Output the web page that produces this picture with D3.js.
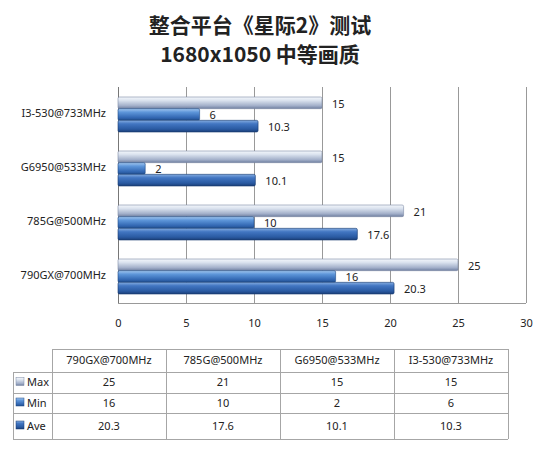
<!DOCTYPE html>
<html>
<head>
<meta charset="utf-8">
<script src="https://cdn.jsdelivr.net/npm/d3@7"></script>
<style>
  body { margin: 0; background: #fff; }
  text { font-family: "Noto Sans", "Open Sans", sans-serif; fill: #222; }
</style>
</head>
<body>
<svg id="chart" width="550" height="454"></svg>
<script>
// data, top-to-bottom order of the bar groups
const categories = ["I3-530@733MHz", "G6950@533MHz", "785G@500MHz", "790GX@700MHz"];
const seriesNames = ["Max", "Min", "Ave"];
const maxValues = [15, 15, 21, 25];
const minValues = [6, 2, 10, 16];
const aveValues = [10.3, 10.1, 17.6, 20.3];
const xTicks = [0, 5, 10, 15, 20, 25, 30];
const titleLines = ["整合平台《星际2》测试", "1680x1050 中等画质"];

const seriesValues = [maxValues, minValues, aveValues];
const rows = categories.map((c, i) => ({
  cat: c,
  vals: seriesNames.map((s, j) => ({ series: s, value: seriesValues[j][i] }))
}));

const svg = d3.select("#chart");
const defs = svg.append("defs");

// bar gradients (vertical, glossy look)
const grads = {
  Max: [["0%", "#f4f7fb"], ["30%", "#dae2ee"], ["75%", "#a2afc9"], ["100%", "#6f7f9f"]],
  Min: [["0%", "#a4c8f0"], ["30%", "#5e96da"], ["75%", "#3469b4"], ["100%", "#234f8f"]],
  Ave: [["0%", "#84ace0"], ["30%", "#4276c2"], ["75%", "#2a5aa2"], ["100%", "#1a3f78"]]
};
Object.entries(grads).forEach(([k, stops]) => {
  const lg = defs.append("linearGradient").attr("id", "g" + k)
    .attr("x1", 0).attr("y1", 0).attr("x2", 0).attr("y2", 1);
  stops.forEach(s => lg.append("stop").attr("offset", s[0]).attr("stop-color", s[1]));
});
const edge = { Max: "#7d8aa6", Min: "#1f4a86", Ave: "#173a70" };

// title
svg.selectAll(".title").data(titleLines).enter().append("text")
  .attr("x", 260).attr("y", (d, i) => 33 + i * 29)
  .attr("text-anchor", "middle")
  .style("font-family", "'Noto Sans CJK SC', sans-serif")
  .style("font-weight", "bold").style("font-size", "21px")
  .text(d => d);

const x = d3.scaleLinear().domain([0, 30]).range([118, 526]);
const y = d3.scaleBand().domain(categories).range([87, 303]);
const yInner = d3.scaleBand().domain(seriesNames).range([10, 45]);

// grid
svg.append("g").selectAll("line").data(xTicks).enter().append("line")
  .attr("x1", d => x(d)).attr("x2", d => x(d))
  .attr("y1", 87).attr("y2", 303)
  .attr("stroke", d => d === 0 ? "#777" : "#999").attr("stroke-width", 1)
  .attr("shape-rendering", "crispEdges");
svg.append("line").attr("x1", x(0)).attr("x2", x(30)).attr("y1", 303).attr("y2", 303)
  .attr("stroke", "#999").attr("shape-rendering", "crispEdges");

// x tick labels via axis
const xAxis = svg.append("g").attr("transform", "translate(0,319)")
  .call(d3.axisBottom(x).tickValues(xTicks).tickSize(0).tickPadding(0));
xAxis.select(".domain").remove();
xAxis.selectAll("text").style("font-size", "11px").attr("fill", "#222")
  .style("font-family", "'Noto Sans', sans-serif");

// y labels
svg.append("g").selectAll("text").data(categories).enter().append("text")
  .attr("x", 106).attr("y", d => y(d) + y.bandwidth() / 2 - 1)
  .attr("dy", "0.35em").attr("text-anchor", "end")
  .style("font-size", "11px").text(d => d);

// bars
const groups = svg.append("g").selectAll("g").data(rows).enter().append("g")
  .attr("transform", d => `translate(0,${y(d.cat)})`);

groups.selectAll("rect").data(d => d.vals).enter().append("rect")
  .attr("x", x(0))
  .attr("y", d => yInner(d.series))
  .attr("width", d => x(d.value) - x(0))
  .attr("height", yInner.bandwidth())
  .attr("rx", 1.5)
  .attr("fill", d => `url(#g${d.series})`)
  .attr("stroke", d => edge[d.series]).attr("stroke-width", 0.6);

// value labels
groups.selectAll(".val").data(d => d.vals).enter().append("text")
  .attr("class", "val")
  .attr("x", d => x(d.value) + 10)
  .attr("y", d => yInner(d.series) + yInner.bandwidth() / 2 + 1)
  .attr("dy", "0.35em")
  .style("font-size", "11px")
  .text(d => d.value);

// data table
const tableCols = categories.slice().reverse();
const colX = d3.scaleBand().domain(tableCols).range([52, 508]);
const rowTops = [349, 372, 393, 413];
const rowBottom = 439;
const tableRows = seriesNames.map((s, j) => ({
  series: s,
  vals: tableCols.map(c => seriesValues[j][categories.indexOf(c)])
}));
const tg = svg.append("g").attr("shape-rendering", "crispEdges");
const lineColor = "#a6a6a6";

// horizontal lines
tg.append("line").attr("x1", 52).attr("x2", 508).attr("y1", rowTops[0]).attr("y2", rowTops[0]).attr("stroke", lineColor);
[rowTops[1], rowTops[2], rowTops[3], rowBottom].forEach(yy => {
  tg.append("line").attr("x1", 13).attr("x2", 508).attr("y1", yy).attr("y2", yy).attr("stroke", lineColor);
});
// vertical lines
tg.append("line").attr("x1", 13).attr("x2", 13).attr("y1", rowTops[1]).attr("y2", rowBottom).attr("stroke", lineColor);
tableCols.forEach(c => {
  tg.append("line").attr("x1", colX(c)).attr("x2", colX(c)).attr("y1", rowTops[0]).attr("y2", rowBottom).attr("stroke", lineColor);
});
tg.append("line").attr("x1", 508).attr("x2", 508).attr("y1", rowTops[0]).attr("y2", rowBottom).attr("stroke", lineColor);

// header text
svg.append("g").selectAll("text").data(tableCols).enter().append("text")
  .attr("x", d => colX(d) + colX.bandwidth() / 2)
  .attr("y", (rowTops[0] + rowTops[1]) / 2).attr("dy", "0.35em")
  .attr("text-anchor", "middle").style("font-size", "11px").text(d => d);

const rowMid = i => ((rowTops[i + 1]) + (i + 2 < rowTops.length ? rowTops[i + 2] : rowBottom)) / 2;

// legend keys + row labels
const legendRows = svg.append("g").selectAll("g").data(tableRows).enter().append("g")
  .attr("transform", (d, i) => `translate(0,${rowMid(i)})`);
legendRows.append("rect")
  .attr("x", 16).attr("y", -5).attr("width", 8).attr("height", 8)
  .attr("fill", d => `url(#g${d.series})`).attr("stroke", d => edge[d.series]).attr("stroke-width", 0.5);
legendRows.append("text").attr("x", 27).attr("dy", "0.35em")
  .style("font-size", "11px").text(d => d.series);
legendRows.selectAll(".cell").data(d => d.vals).enter().append("text")
  .attr("class", "cell")
  .attr("x", (d, i) => colX(tableCols[i]) + colX.bandwidth() / 2)
  .attr("dy", "0.35em").attr("text-anchor", "middle")
  .style("font-size", "11px").text(d => d);
</script>
</body>
</html>
